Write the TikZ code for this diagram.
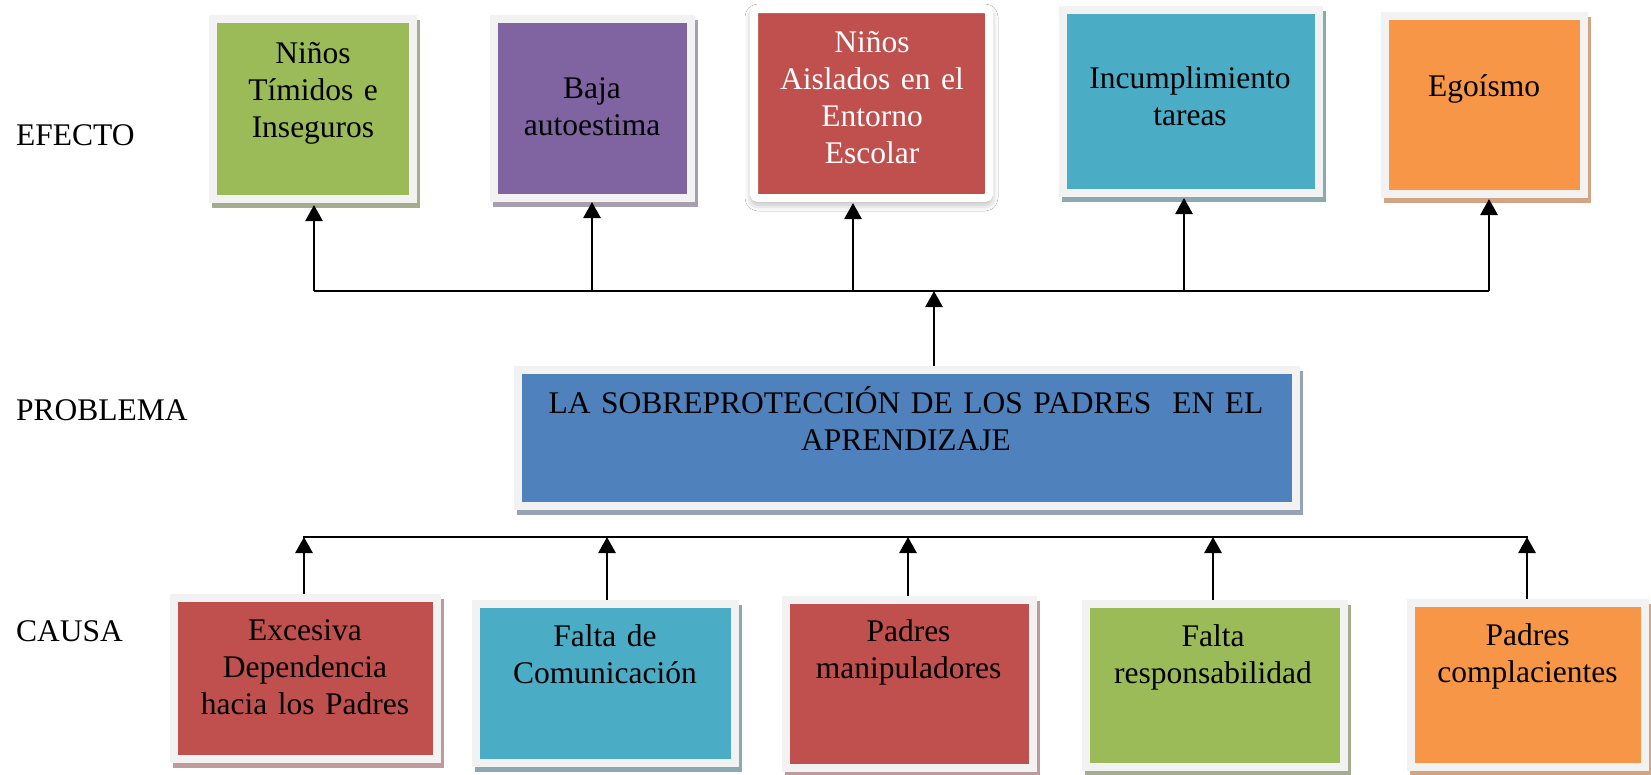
\documentclass[tikz,border=0pt]{standalone}
\usepackage{fontspec}
\setmainfont{Liberation Serif}
\usetikzlibrary{arrows.meta,calc,shadows.blur}
\definecolor{framec}{HTML}{F2F2F2}
\definecolor{cgreen}{HTML}{9BBB59}
\definecolor{sgreen}{HTML}{A5AD8E}
\definecolor{cpurple}{HTML}{8064A2}
\definecolor{spurple}{HTML}{A59FAF}
\definecolor{cred}{HTML}{C0504D}
\definecolor{sred}{HTML}{BE9A9A}
\definecolor{ccyan}{HTML}{4BACC6}
\definecolor{scyan}{HTML}{8AA9B1}
\definecolor{corange}{HTML}{F79646}
\definecolor{sorange}{HTML}{D2A482}
\definecolor{cblue}{HTML}{4F81BD}
\definecolor{sblue}{HTML}{95A3B5}
\tikzset{
  boxbase/.style={rectangle, draw=framec, line width=8pt, inner sep=0pt, outer sep=0pt},
  shad/.style={preaction={draw=#1, fill=#1, line width=8pt, transform canvas={xshift=3pt,yshift=-5pt}}},
  txt/.style={font=\fontsize{31.5}{37}\selectfont, text width=800pt, align=center, anchor=base, inner sep=0pt},
  lbl/.style={font=\fontsize{31.5}{37}\selectfont, anchor=base west, inner sep=0pt},
  arr/.style={line width=2.8pt, -{Triangle[width=17pt,length=16pt]}},
  barline/.style={line width=2.8pt}
}
\begin{document}
\begin{tikzpicture}[x=1pt,y=-1pt]
\useasboundingbox (0,0) rectangle (1651,774);
\fill[white] (0,0) rectangle (1651,774);

% left labels
\node[lbl] (lef) at (16,145) {EFECTO};
\node[lbl] (lpr) at (16,420) {PROBLEMA};
\node[lbl] (lca) at (16,641) {CAUSA};

% effect boxes
\node[boxbase, shad=sgreen, fill=cgreen, minimum width=200pt, minimum height=180pt] (e1) at (313,109) {};
\node[txt] (e1t) at (313,63) {Niños\\Tímidos e\\Inseguros};
\node[boxbase, shad=spurple, fill=cpurple, minimum width=197pt, minimum height=179pt] (e2) at (592.5,108.5) {};
\node[txt] (e2t) at (592,98) {Baja\\autoestima};
\node[boxbase, draw=white, fill=cred, rounded corners=4pt, minimum width=235pt, minimum height=189pt,
  blur shadow={shadow xshift=0pt, shadow yshift=-4pt, shadow blur radius=9pt, shadow opacity=45}] (e3) at (871.5,103.5) {};
\node[txt, text=white] (e3t) at (872,52) {Niños\\Aislados en el\\Entorno\\Escolar};
\node[boxbase, shad=scyan, fill=ccyan, minimum width=256pt, minimum height=183pt] (e4) at (1191,101.5) {};
\node[txt] (e4t) at (1190,88) {Incumplimiento\\tareas};
\node[boxbase, shad=sorange, fill=corange, minimum width=199pt, minimum height=178pt] (e5) at (1484.5,105) {};
\node[txt] (e5t) at (1484,96) {Egoísmo};

% problem box
\node[boxbase, shad=sblue, fill=cblue, minimum width=778pt, minimum height=136pt] (p) at (907,438) {};
\node[txt] (pt) at (906,413) {LA SOBREPROTECCIÓN DE LOS PADRES~ EN EL\\APRENDIZAJE};

% cause boxes
\node[boxbase, shad=sred, fill=cred, minimum width=263pt, minimum height=161pt] (c1) at (305.5,678.5) {};
\node[txt] (c1t) at (305,640) {Excesiva\\Dependencia\\hacia los Padres};
\node[boxbase, shad=scyan, fill=ccyan, minimum width=259pt, minimum height=159pt] (c2) at (605.5,683.5) {};
\node[txt] (c2t) at (605,646) {Falta de\\Comunicación};
\node[boxbase, shad=sred, fill=cred, minimum width=247pt, minimum height=168pt] (c3) at (909.5,684) {};
\node[txt] (c3t) at (908.5,641) {Padres\\manipuladores};
\node[boxbase, shad=sgreen, fill=cgreen, minimum width=258pt, minimum height=163pt] (c4) at (1215,685.5) {};
\node[txt] (c4t) at (1213,646) {Falta\\responsabilidad};
\node[boxbase, shad=sorange, fill=corange, minimum width=234pt, minimum height=164pt] (c5) at (1528,685) {};
\node[txt] (c5t) at (1527.5,645) {Padres\\complacientes};

% top bar and arrows
\coordinate (t1) at (314,291);
\coordinate (t2) at (592,291);
\coordinate (t3) at (853,291);
\coordinate (t4) at (1184,291);
\coordinate (t5) at (1489,291);
\coordinate (tp) at (934,291);
\draw[barline] (t1) -- (t5);
\draw[arr] (t1) -- ($(t1 |- e1.south)+(0,6)$);
\draw[arr] (t2) -- ($(t2 |- e2.south)+(0,4)$);
\draw[arr] (t3) -- ($(t3 |- e3.south)+(0,5)$);
\draw[arr] (t4) -- ($(t4 |- e4.south)+(0,5)$);
\draw[arr] (t5) -- ($(t5 |- e5.south)+(0,5)$);
\draw[arr] ($(tp |- p.north)+(0,-4)$) -- (tp);

% bottom bar and arrows
\coordinate (b1) at (304,537);
\coordinate (b2) at (607,537);
\coordinate (b3) at (908,537);
\coordinate (b4) at (1213,537);
\coordinate (b5) at (1527,537);
\draw[barline] ($(b1)+(-1.4,0)$) -- ($(b5)+(1.4,0)$);
\draw[arr] ($(b1 |- c1.north)+(0,-4)$) -- (b1);
\draw[arr] ($(b2 |- c2.north)+(0,-4)$) -- (b2);
\draw[arr] ($(b3 |- c3.north)+(0,-4)$) -- (b3);
\draw[arr] ($(b4 |- c4.north)+(0,-4)$) -- (b4);
\draw[arr] ($(b5 |- c5.north)+(0,-4)$) -- (b5);
\end{tikzpicture}
\end{document}
